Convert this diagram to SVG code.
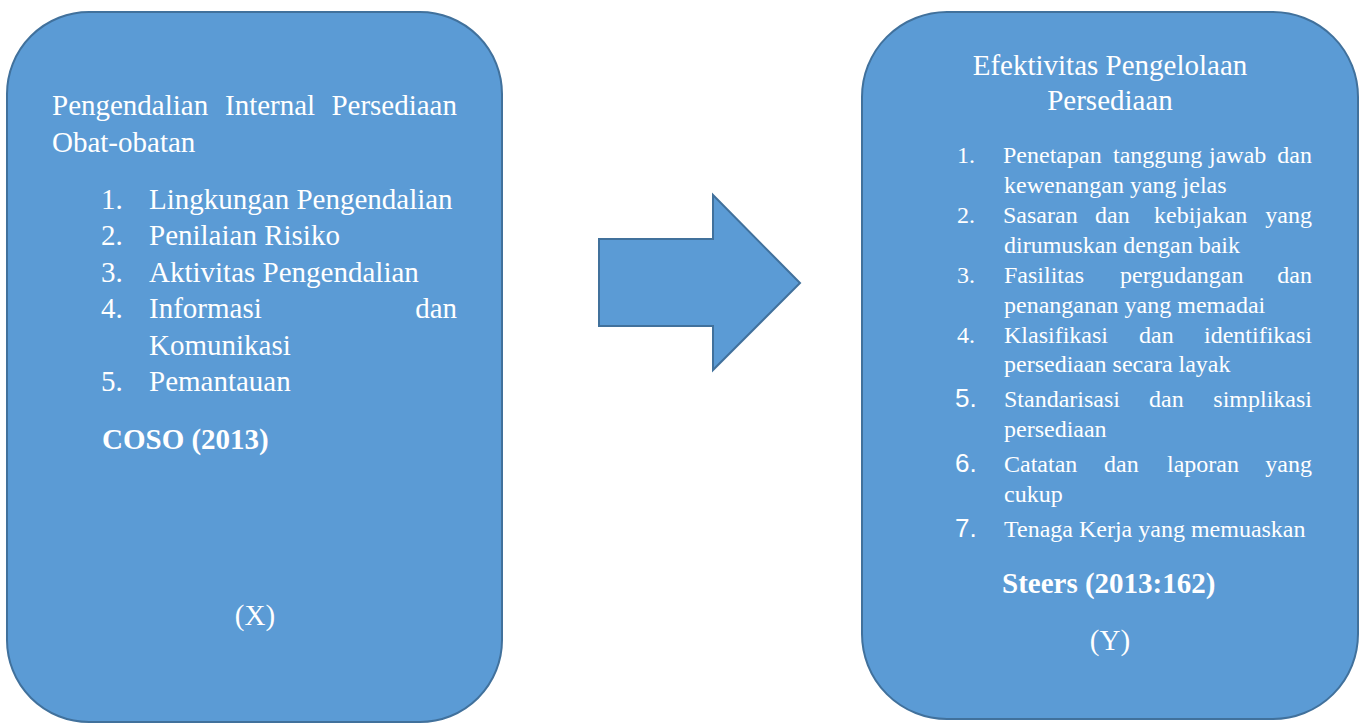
<svg xmlns="http://www.w3.org/2000/svg" width="1363" height="724" viewBox="0 0 1363 724">
<style>
.box{fill:#5B9BD5;stroke:#41719C;stroke-width:2}
text{fill:#FFFFFF;font-family:"Liberation Serif","Times New Roman",serif}
.l{font-size:29px}
.r{font-size:24px}
.b{font-weight:bold}
.n{font-family:"Liberation Sans",Arial,sans-serif;font-size:26px}
.e{text-anchor:end}
.c{text-anchor:middle}
</style>
<rect width="1363" height="724" fill="#FFFFFF"/>
<g id="node-x">
<rect class="box" x="7" y="12" width="495" height="710" rx="82" ry="82"/>
<text class="l" y="115"><tspan x="52">Pengendalian</tspan><tspan x="225">Internal</tspan><tspan x="457" class="e">Persediaan</tspan></text>
<text class="l" x="52" y="152">Obat-obatan</text>
<text class="l" x="101" y="209">1.</text><text class="l" x="149" y="209">Lingkungan Pengendalian</text>
<text class="l" x="101" y="245">2.</text><text class="l" x="149" y="245">Penilaian Risiko</text>
<text class="l" x="101" y="282">3.</text><text class="l" x="149" y="282">Aktivitas Pengendalian</text>
<text class="l" x="101" y="318">4.</text><text class="l" y="318"><tspan x="149">Informasi</tspan><tspan x="457" class="e">dan</tspan></text>
<text class="l" x="149" y="355">Komunikasi</text>
<text class="l" x="101" y="391">5.</text><text class="l" x="149" y="391">Pemantauan</text>
<text class="l b" x="102" y="449">COSO (2013)</text>
<text class="l c" x="255" y="625">(X)</text>
</g>
<g id="connectors">
<polygon class="box" points="599,239 713,239 713,195 800,283 713,370 713,326 599,326"/>
</g>
<g id="node-y">
<rect class="box" x="862" y="12" width="496" height="707" rx="85" ry="85"/>
<text class="l c" x="1110" y="75">Efektivitas Pengelolaan</text>
<text class="l c" x="1110" y="110">Persediaan</text>
<text class="r" x="957" y="163">1.</text>
<text class="r" y="163"><tspan x="1003">Penetapan</tspan><tspan x="1113">tanggung</tspan><tspan x="1209">jawab</tspan><tspan x="1312" class="e">dan</tspan></text>
<text class="r" x="1004" y="193">kewenangan yang jelas</text>
<text class="r" x="957" y="223">2.</text>
<text class="r" y="223"><tspan x="1003">Sasaran</tspan><tspan x="1095">dan</tspan><tspan x="1154">kebijakan</tspan><tspan x="1312" class="e">yang</tspan></text>
<text class="r" x="1004" y="253">dirumuskan dengan baik</text>
<text class="r" x="957" y="283">3.</text>
<text class="r" y="283"><tspan x="1004">Fasilitas</tspan><tspan x="1120">pergudangan</tspan><tspan x="1312" class="e">dan</tspan></text>
<text class="r" x="1004" y="313">penanganan yang memadai</text>
<text class="r" x="957" y="343">4.</text>
<text class="r" y="343"><tspan x="1004">Klasifikasi</tspan><tspan x="1139">dan</tspan><tspan x="1312" class="e">identifikasi</tspan></text>
<text class="r" x="1004" y="372">persediaan secara layak</text>
<text class="n" x="955" y="407">5.</text>
<text class="r" y="407"><tspan x="1004">Standarisasi</tspan><tspan x="1149">dan</tspan><tspan x="1312" class="e">simplikasi</tspan></text>
<text class="r" x="1004" y="437">persediaan</text>
<text class="n" x="955" y="472">6.</text>
<text class="r" y="472"><tspan x="1004">Catatan</tspan><tspan x="1104">dan</tspan><tspan x="1167">laporan</tspan><tspan x="1312" class="e">yang</tspan></text>
<text class="r" x="1004" y="502">cukup</text>
<text class="n" x="955" y="537">7.</text>
<text class="r" x="1004" y="537">Tenaga Kerja yang memuaskan</text>
<text class="l b" x="1002" y="593">Steers (2013:162)</text>
<text class="l c" x="1110" y="650">(Y)</text>
</g>
</svg>
